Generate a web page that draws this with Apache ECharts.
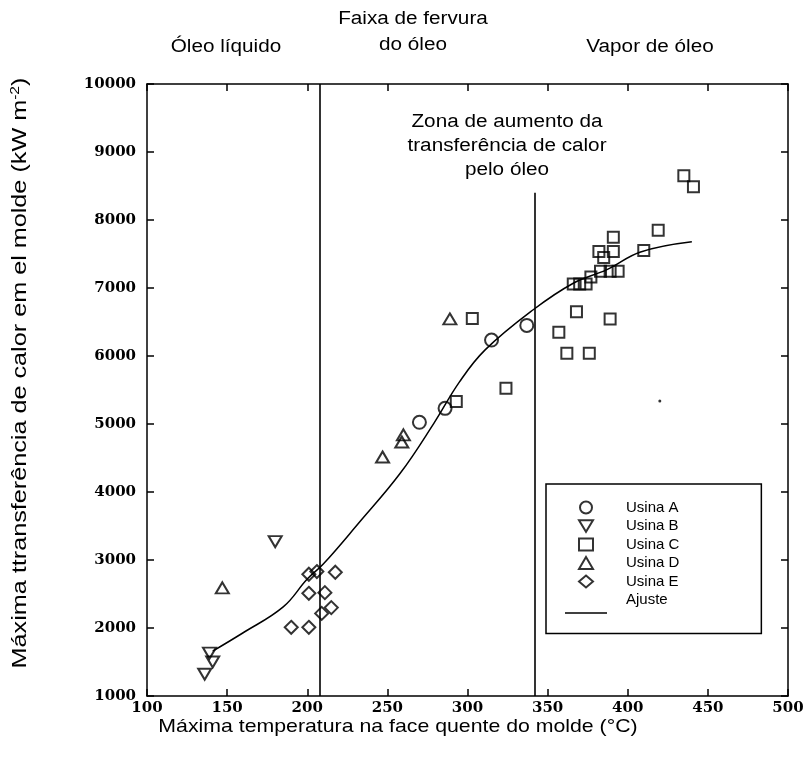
<!DOCTYPE html>
<html><head><meta charset="utf-8">
<script src="https://cdn.jsdelivr.net/npm/echarts@6/dist/echarts.min.js"></script>
<style>html,body{margin:0;padding:0;background:#fff}#c{width:811px;height:760px}</style>
</head><body><div id="c"></div>
<script>
// ---- data ----
const usinaA = [[270,5025],[286,5230],[315,6235],[337,6450]];
const usinaB = [[180,3270],[139,1630],[141,1500],[136,1320]];
const usinaC = [[303,6550],[293,5330],[324,5525],[357,6350],[362,6040],[376,6040],[368,6650],[389,6545],
  [366,7060],[370,7060],[374,7060],[377,7160],[383,7245],[389,7245],[394,7245],[385,7450],[382,7535],
  [391,7535],[391,7745],[410,7550],[419,7850],[435,8650],[441,8490]];
const usinaD = [[147,2590],[247,4515],[260,4840],[259,4735],[289,6545]];
const usinaE = [[201,2790],[206,2830],[217.5,2820],[201,2510],[211,2520],[215,2300],[209,2215],[190,2010],[201,2010]];
const ajuste = [[141,1660],[160,1930],[185,2310],[200,2720],[210,2940],[232,3540],[258,4275],[279,5010],
  [295,5620],[311,6090],[341,6680],[366,7070],[387,7270],[408,7530],[440,7680]];
const strayDot = [[420,5340]];
const boundary1 = [[208,10000],[208,1000]];
const boundary2 = [[342,8400],[342,1000]];
const xRange = [100, 500, 50];
const yRange = [1000, 10000, 1000];
const seriesNames = ['Usina A','Usina B','Usina C','Usina D','Usina E','Ajuste'];

const tickFont = {fontFamily:'DejaVu Serif', fontWeight:'bold', fontSize:15, color:'#000',
  formatter: v => String(v)};
const mk = {color:'rgba(0,0,0,0)', borderColor:'#000', borderWidth:2};
function axisBase(extra){
  return Object.assign({
    type:'value', splitLine:{show:false},
    axisLine:{show:true, onZero:false, lineStyle:{color:'#000', width:1.5}},
    axisTick:{show:true, inside:true, length:7, lineStyle:{color:'#000', width:1.5}}
  }, extra);
}
const chart = echarts.init(document.getElementById('c'), null, {renderer:'canvas'});
const scatter = (name, data, symbol, size) => ({
  name, type:'scatter', data, symbol, symbolSize:size, itemStyle:mk, z:3
});
chart.setOption({
  animation:false,
  backgroundColor:'#fff',
  grid:{left:147, right:23, top:84, bottom:64},
  xAxis:[
    axisBase({min:xRange[0], max:xRange[1], interval:xRange[2], position:'bottom',
      axisLabel:Object.assign({margin:5}, tickFont)}),
    axisBase({min:xRange[0], max:xRange[1], interval:xRange[2], position:'top', axisLabel:{show:false}})
  ],
  yAxis:[
    axisBase({min:yRange[0], max:yRange[1], interval:yRange[2], position:'left',
      axisLabel:Object.assign({margin:11}, tickFont)}),
    axisBase({min:yRange[0], max:yRange[1], interval:yRange[2], position:'right', axisLabel:{show:false}})
  ],
  legend:{
    data:['Usina A','Usina B','Usina C','Usina D','Usina E',{name:'Ajuste', icon:'none'}],
    orient:'vertical', left:546, top:484,
    backgroundColor:'#fff', borderColor:'#000', borderWidth:1.5, borderRadius:0,
    padding:[16,82,26,32], itemGap:3.5, itemWidth:14, itemHeight:12,
    textStyle:{fontFamily:'Liberation Sans', fontSize:15, color:'#000', lineHeight:15, padding:[0,0,0,28]},
    selectedMode:false
  },
  series:[
    scatter('Usina A', usinaA, 'circle', 13),
    scatter('Usina B', usinaB, 'path://M0,0 L12,0 L6,10 Z', [13,11]),
    scatter('Usina C', usinaC, 'rect', 11),
    scatter('Usina D', usinaD, 'triangle', [13,11]),
    scatter('Usina E', usinaE, 'diamond', 13),
    {name:'Ajuste', type:'line', data:ajuste, smooth:0.4, showSymbol:false, symbol:'none',
      lineStyle:{color:'#000', width:1.5}, itemStyle:{color:'#000'}, z:2,
      markLine:{silent:true, symbol:'none', label:{show:false},
        lineStyle:{color:'#000', width:1.6, type:'solid'},
        data:[
          [{coord:boundary1[0]},{coord:boundary1[1]}],
          [{coord:boundary2[0]},{coord:boundary2[1]}]
        ]}
    },
    {name:'ponto', type:'scatter', data:strayDot, symbol:'circle', symbolSize:3, itemStyle:{color:'#000'}}
  ],
  graphic:[
    {type:'line', z:100, shape:{x1:565, y1:613, x2:607, y2:613}, style:{stroke:'#000', lineWidth:1.5}},
    {type:'text', x:226, y:47, scaleX:1.15, style:{text:'Óleo líquido', font:'18px "Liberation Sans"', fill:'#000', align:'center', verticalAlign:'middle'}},
    {type:'text', x:413, y:19, scaleX:1.15, style:{text:'Faixa de fervura', font:'18px "Liberation Sans"', fill:'#000', align:'center', verticalAlign:'middle'}},
    {type:'text', x:413, y:45, scaleX:1.15, style:{text:'do óleo', font:'18px "Liberation Sans"', fill:'#000', align:'center', verticalAlign:'middle'}},
    {type:'text', x:650, y:47, scaleX:1.15, style:{text:'Vapor de óleo', font:'18px "Liberation Sans"', fill:'#000', align:'center', verticalAlign:'middle'}},
    {type:'text', x:507, y:122, scaleX:1.15, style:{text:'Zona de aumento da', font:'18px "Liberation Sans"', fill:'#000', align:'center', verticalAlign:'middle'}},
    {type:'text', x:507, y:146, scaleX:1.15, style:{text:'transferência de calor', font:'18px "Liberation Sans"', fill:'#000', align:'center', verticalAlign:'middle'}},
    {type:'text', x:507, y:170, scaleX:1.15, style:{text:'pelo óleo', font:'18px "Liberation Sans"', fill:'#000', align:'center', verticalAlign:'middle'}},
    {type:'text', x:398, y:727, scaleX:1.12, style:{text:'Máxima temperatura na face quente do molde (°C)', font:'19px "Liberation Sans"', fill:'#000', align:'center', verticalAlign:'middle'}},
    {type:'text', x:20, y:373, rotation:Math.PI/2, scaleX:1.2, style:{
      text:'Máxima ttransferência de calor em el molde (kW m{sup|-2})', font:'21px "Liberation Sans"', fill:'#000', align:'center', verticalAlign:'middle',
      rich:{sup:{fontSize:13, fontFamily:'Liberation Sans', verticalAlign:'top', padding:[0,0,10,0]}}}}
  ]
});
</script></body></html>
